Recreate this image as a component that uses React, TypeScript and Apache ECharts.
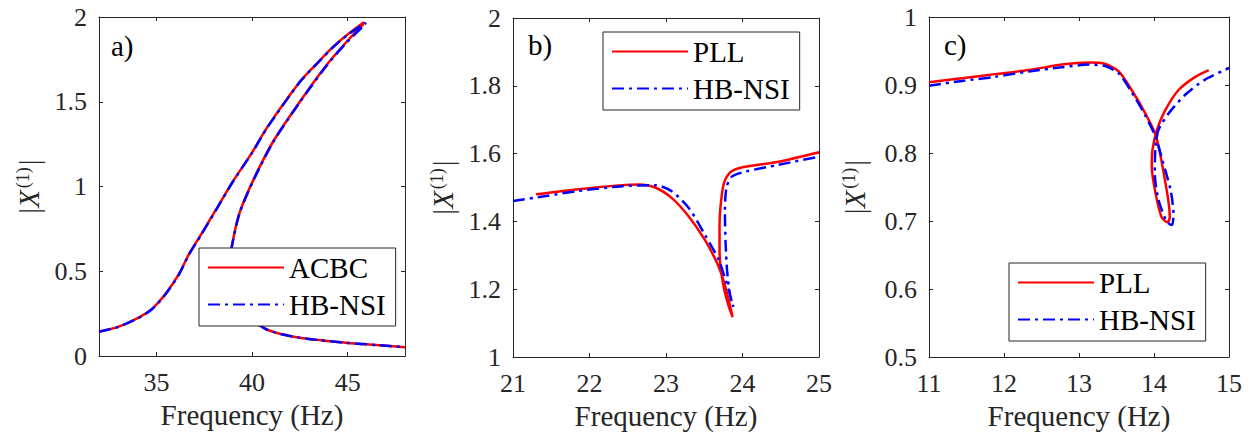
import React, { useEffect, useRef } from 'react';
import * as echarts from 'echarts';

// ---------- Panel a) ----------
const freqA_ACBC = [32.0, 33.0, 34.1, 34.8, 35.5, 36.2, 36.7, 37.3, 38.1, 39.0, 40.0, 40.8, 42.5, 43.4, 44.25, 45.0, 45.85,
  45.8, 44.95, 43.9, 42.5, 41.1, 40.1, 39.35, 38.95, 38.8, 38.8, 39.0, 39.5, 40.4, 40.8, 41.5, 42.5, 43.5, 45.0, 46.5, 48.0];
const ampA_ACBC = [0.143, 0.172, 0.228, 0.281, 0.37, 0.488, 0.6, 0.71, 0.86, 1.03, 1.2, 1.35, 1.618, 1.727, 1.825, 1.897, 1.969,
  1.955, 1.854, 1.717, 1.5, 1.264, 1.045, 0.845, 0.65, 0.5, 0.38, 0.29, 0.23, 0.18, 0.155, 0.13, 0.108, 0.094, 0.077, 0.065, 0.052];
const freqA_HB = [32.0, 33.0, 34.1, 34.8, 35.5, 36.2, 36.7, 37.3, 38.1, 39.0, 40.0, 40.8, 42.5, 43.4, 44.25, 45.0, 45.95,
  45.85, 44.95, 43.9, 42.5, 41.1, 40.1, 39.35, 38.95, 38.8, 38.8, 39.0, 39.5, 40.4, 40.8, 41.5, 42.5, 43.5, 45.0, 46.5, 48.0];
const ampA_HB = [0.143, 0.171, 0.226, 0.279, 0.367, 0.485, 0.598, 0.708, 0.858, 1.028, 1.198, 1.348, 1.616, 1.725, 1.823, 1.895, 1.965,
  1.95, 1.85, 1.713, 1.497, 1.262, 1.043, 0.843, 0.648, 0.5, 0.38, 0.29, 0.23, 0.18, 0.155, 0.13, 0.108, 0.094, 0.077, 0.065, 0.052];

// ---------- Panel b) ----------
const freqB_PLL = [21.3, 21.86, 22.43, 22.64, 22.86, 23.08, 23.3, 23.51, 23.67, 23.75, 23.82, 23.87,
  23.82, 23.76, 23.71, 23.7, 23.7, 23.72, 23.76, 23.84, 24.0, 24.47, 25.0];
const ampB_PLL = [1.48, 1.495, 1.507, 1.509, 1.5, 1.468, 1.414, 1.345, 1.276, 1.227, 1.168, 1.118,
  1.15, 1.2, 1.27, 1.32, 1.39, 1.46, 1.515, 1.545, 1.56, 1.576, 1.604];
const freqB_HB = [21.0, 21.43, 21.86, 22.43, 22.86, 23.08, 23.3, 23.51, 23.69, 23.82, 23.88,
  23.84, 23.8, 23.78, 23.77, 23.79, 23.86, 24.04, 24.47, 25.0];
const ampB_HB = [1.46, 1.475, 1.49, 1.504, 1.507, 1.488, 1.439, 1.36, 1.286, 1.197, 1.148,
  1.18, 1.25, 1.33, 1.43, 1.5, 1.532, 1.547, 1.567, 1.591];

// ---------- Panel c) ----------
const freqC_PLL = [11.0, 11.44, 11.88, 12.33, 12.77, 13.13, 13.35, 13.53, 13.7, 13.88, 14.02, 14.08, 14.13, 14.19, 14.21, 14.18,
  14.1, 14.02, 13.97, 13.98, 14.04, 14.15, 14.33, 14.55, 14.73];
const ampC_PLL = [0.904, 0.91, 0.916, 0.922, 0.93, 0.933, 0.931, 0.92, 0.893, 0.859, 0.827, 0.8, 0.77, 0.731, 0.705, 0.698,
  0.706, 0.741, 0.78, 0.805, 0.834, 0.863, 0.893, 0.912, 0.922];
const freqC_HB = [11.0, 11.44, 11.88, 12.33, 12.77, 13.13, 13.35, 13.53, 13.7, 13.88, 14.02, 14.11, 14.22, 14.26, 14.24,
  14.17, 14.06, 14.01, 14.02, 14.06, 14.2, 14.42, 14.68, 15.0];
const ampC_HB = [0.899, 0.906, 0.912, 0.92, 0.926, 0.93, 0.928, 0.917, 0.89, 0.856, 0.824, 0.79, 0.746, 0.711, 0.694,
  0.699, 0.731, 0.77, 0.809, 0.834, 0.859, 0.886, 0.908, 0.925];

// ---------- Ticks ----------
const xTicksA = [35, 40, 45];
const yTicksA = [0, 0.5, 1, 1.5, 2];
const xTicksB = [21, 22, 23, 24, 25];
const yTicksB = [1, 1.2, 1.4, 1.6, 1.8, 2];
const xTicksC = [11, 12, 13, 14, 15];
const yTicksC = [0.5, 0.6, 0.7, 0.8, 0.9, 1];

const panelLabels = ['a)', 'b)', 'c)'];
const legendA = ['ACBC', 'HB-NSI'];
const legendBC = ['PLL', 'HB-NSI'];

const FONT = 'serif';
const AX = '#262626';
const RED = '#ff0000';
const BLUE = '#0000ff';
const DASHDOT = [12, 5, 3, 5];

const pairs = (x: number[], y: number[]) => x.map((v, i) => [v, y[i]]);

function makeXAxes(gridIndex: number, min: number, max: number, ticks: number[]) {
  const line = { show: true, onZero: false, lineStyle: { color: AX, width: 1 } };
  return [
    {
      type: 'value', gridIndex, min, max, position: 'bottom',
      axisLine: line,
      axisTick: { show: true, inside: true, length: 4, customValues: ticks, lineStyle: { color: AX } },
      axisLabel: { customValues: ticks, margin: 13, fontFamily: FONT, fontSize: 26, color: AX },
      splitLine: { show: false },
      name: 'Frequency (Hz)', nameLocation: 'middle', nameGap: 44,
      nameTextStyle: { fontFamily: FONT, fontSize: 29, color: AX },
    },
    {
      type: 'value', gridIndex, min, max, position: 'top',
      axisLine: line,
      axisTick: { show: true, inside: true, length: 4, customValues: ticks, lineStyle: { color: AX } },
      axisLabel: { show: false },
      splitLine: { show: false },
    },
  ];
}

function makeYAxes(gridIndex: number, min: number, max: number, ticks: number[], gap: number) {
  const line = { show: true, onZero: false, lineStyle: { color: AX, width: 1 } };
  return [
    {
      type: 'value', gridIndex, min, max, position: 'left',
      axisLine: line,
      axisTick: { show: true, inside: true, length: 4, customValues: ticks, lineStyle: { color: AX } },
      axisLabel: { customValues: ticks, margin: 12, fontFamily: FONT, fontSize: 26, color: AX },
      splitLine: { show: false },
      name: '|{i|X}{s|(1)}|', nameLocation: 'middle', nameGap: gap, nameRotate: 90,
      nameTextStyle: {
        fontFamily: FONT, fontSize: 29, color: AX,
        rich: {
          i: { fontFamily: FONT, fontSize: 29, fontStyle: 'italic', color: AX },
          s: { fontFamily: FONT, fontSize: 18, color: AX, verticalAlign: 'top', padding: [0, 2, 0, 2] },
        },
      },
    },
    {
      type: 'value', gridIndex, min, max, position: 'right',
      axisLine: line,
      axisTick: { show: true, inside: true, length: 4, customValues: ticks, lineStyle: { color: AX } },
      axisLabel: { show: false },
      splitLine: { show: false },
    },
  ];
}

function lineSeries(name: string, data: number[][], axis: number, color: string, dashed: boolean) {
  return {
    type: 'line', name, data, xAxisIndex: axis, yAxisIndex: axis,
    showSymbol: false, symbol: 'none', smooth: 0.25,
    lineStyle: { color, width: 2.5, type: dashed ? DASHDOT : 'solid' },
    itemStyle: { color },
    z: dashed ? 3 : 2,
  };
}

function makeLegend(data: string[], left: number, top: number) {
  return {
    data, orient: 'vertical', left, top,
    itemWidth: 76, itemHeight: 14, itemGap: 8,
    padding: [5, 10, 7, 8],
    borderColor: AX, borderWidth: 1, backgroundColor: '#ffffff',
    selectedMode: false,
    itemStyle: { opacity: 0 },
    lineStyle: { opacity: 1 },
    textStyle: { fontFamily: FONT, fontSize: 29, color: '#000' },
  };
}

export default function App() {
  const ref = useRef<HTMLDivElement>(null);
  useEffect(() => {
    document.body.style.margin = '0';
    if (!ref.current) return;
    const chart = echarts.init(ref.current, undefined, { renderer: 'svg' });
    const titleStyle = { fontFamily: FONT, fontSize: 29, fontWeight: 'normal', color: '#000' };
    chart.setOption({
      animation: false,
      backgroundColor: '#ffffff',
      textStyle: { fontFamily: FONT },
      grid: [
        { left: 99, top: 17, width: 306, height: 339, outerBoundsMode: 'none', containLabel: false },
        { left: 513, top: 18, width: 306, height: 339, outerBoundsMode: 'none', containLabel: false },
        { left: 929, top: 17, width: 300, height: 340, outerBoundsMode: 'none', containLabel: false },
      ],
      title: [
        { text: panelLabels[0], left: 111, top: 31, padding: 0, textStyle: titleStyle },
        { text: panelLabels[1], left: 528, top: 30, padding: 0, textStyle: titleStyle },
        { text: panelLabels[2], left: 944, top: 30, padding: 0, textStyle: titleStyle },
      ],
      legend: [
        makeLegend(legendA, 199, 248),
        makeLegend(legendBC, 603, 32),
        makeLegend(legendBC, 1009, 263),
      ],
      xAxis: [
        ...makeXAxes(0, 32, 48, xTicksA),
        ...makeXAxes(1, 21, 25, xTicksB),
        ...makeXAxes(2, 11, 15, xTicksC),
      ],
      yAxis: [
        ...makeYAxes(0, 0, 2, yTicksA, 56),
        ...makeYAxes(1, 1, 2, yTicksB, 56),
        ...makeYAxes(2, 0.5, 1, yTicksC, 60),
      ],
      series: [
        lineSeries('ACBC', pairs(freqA_ACBC, ampA_ACBC), 0, RED, false),
        lineSeries('HB-NSI', pairs(freqA_HB, ampA_HB), 0, BLUE, true),
        lineSeries('PLL', pairs(freqB_PLL, ampB_PLL), 2, RED, false),
        lineSeries('HB-NSI', pairs(freqB_HB, ampB_HB), 2, BLUE, true),
        lineSeries('PLL', pairs(freqC_PLL, ampC_PLL), 4, RED, false),
        lineSeries('HB-NSI', pairs(freqC_HB, ampC_HB), 4, BLUE, true),
      ],
    });
    return () => chart.dispose();
  }, []);
  return <div ref={ref} style={{ width: 1248, height: 434 }} />;
}
